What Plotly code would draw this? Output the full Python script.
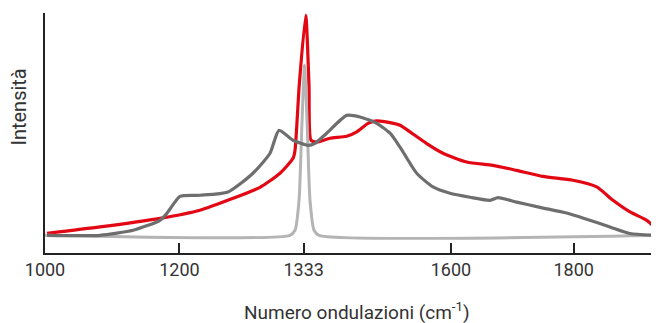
import plotly.graph_objects as go

# Axis positions (schematic, non-linear labels)
tick_pos = [1000, 1203.5, 1391.5, 1614.3, 1800]
tick_labels = ["1000", "1200", "1333", "1600", "1800"]
x_title = "Numero ondulazioni (cm<sup>-1</sup>)"
y_title = "Intensità"

red_x = [1003, 1083.2, 1174.0, 1234.5, 1284.5, 1325.3, 1355.6, 1375.3, 1378.3, 1384.7, 1394.5,
         1399.5, 1402.5, 1411.1, 1431.3, 1456.5, 1471.7, 1488.8, 1501.9, 1522.1, 1537.2, 1552.3,
         1577.6, 1602.3, 1638.1, 1677.9, 1713.8, 1753.6, 1799.0, 1834.8, 1859.5, 1885.2, 1910.5, 1927.6]
red_y = [0.009, 0.038, 0.077, 0.114, 0.168, 0.218, 0.282, 0.35, 0.386, 0.682, 1.0,
         0.682, 0.432, 0.424, 0.441, 0.45, 0.47, 0.509, 0.52, 0.512, 0.5, 0.47,
         0.417, 0.373, 0.333, 0.318, 0.295, 0.268, 0.25, 0.22, 0.159, 0.106, 0.068, 0.023]

dark_x = [1003, 1083.2, 1133.2, 1174.0, 1184.6, 1204.3, 1234.5, 1276.9, 1314.7, 1340.5, 1354.1,
          1375.3, 1398.0, 1408.6, 1426.3, 1456.5, 1476.7, 1501.9, 1522.1, 1537.2, 1562.5, 1587.1,
          1612.8, 1643.1, 1673.4, 1685.5, 1713.8, 1749.0, 1789.4, 1819.7, 1854.9, 1885.2, 1927.6]
dark_y = [0.0, 0.0, 0.023, 0.068, 0.1, 0.177, 0.182, 0.197, 0.282, 0.373, 0.477,
          0.432, 0.409, 0.418, 0.464, 0.545, 0.538, 0.509, 0.464, 0.401, 0.282, 0.22,
          0.191, 0.173, 0.159, 0.171, 0.151, 0.127, 0.101, 0.073, 0.038, 0.008, 0.0]

light_x = [1000, 1370.7, 1378.3, 1384.4, 1389.0, 1392.7, 1396.5, 1401.0, 1407.1, 1414.6, 1929]
light_y = [0, 0, 0.023, 0.159, 0.523, 0.773, 0.523, 0.159, 0.023, 0, 0]

fig = go.Figure()
fig.add_trace(go.Scatter(x=red_x, y=red_y, mode="lines",
                         line=dict(color="#e30613", width=3.2, shape="spline", smoothing=0.6)))
fig.add_trace(go.Scatter(x=light_x, y=light_y, mode="lines",
                         line=dict(color="#b4b4b4", width=3, shape="spline", smoothing=0.6)))
fig.add_trace(go.Scatter(x=dark_x, y=dark_y, mode="lines",
                         line=dict(color="#6e6e6e", width=3.2, shape="spline", smoothing=0.6)))

font_family = "Roboto, sans-serif"
fig.update_layout(
    width=651, height=315,
    margin=dict(l=37, r=0, t=5, b=70, autoexpand=False),
    paper_bgcolor="white", plot_bgcolor="white",
    showlegend=False,
    font=dict(family=font_family, color="#333333", size=18),
    xaxis=dict(range=[1000, 1929.1], tickmode="array", tickvals=tick_pos, ticktext=tick_labels,
               showline=True, linecolor="#222222", linewidth=1.5, ticks="inside", ticklen=10,
               tickwidth=1.5, tickcolor="#222222", showgrid=False, zeroline=False,
               automargin=False, tickfont=dict(size=18, color="#333333")),
    yaxis=dict(range=[-0.0805, 1.0105], showline=True, linecolor="#222222", linewidth=1.5,
               showticklabels=False, ticks="", showgrid=False, zeroline=False, automargin=False),
    annotations=[
        dict(text=x_title, xref="paper", yref="paper", x=0.508, y=-0.245,
             xanchor="center", yanchor="middle", showarrow=False,
             font=dict(size=19, color="#333333")),
        dict(text=y_title, xref="paper", yref="paper", x=-0.042, y=0.607, textangle=-90,
             xanchor="center", yanchor="middle", showarrow=False,
             font=dict(size=20, color="#333333")),
    ],
)
fig.write_html("out.html")
